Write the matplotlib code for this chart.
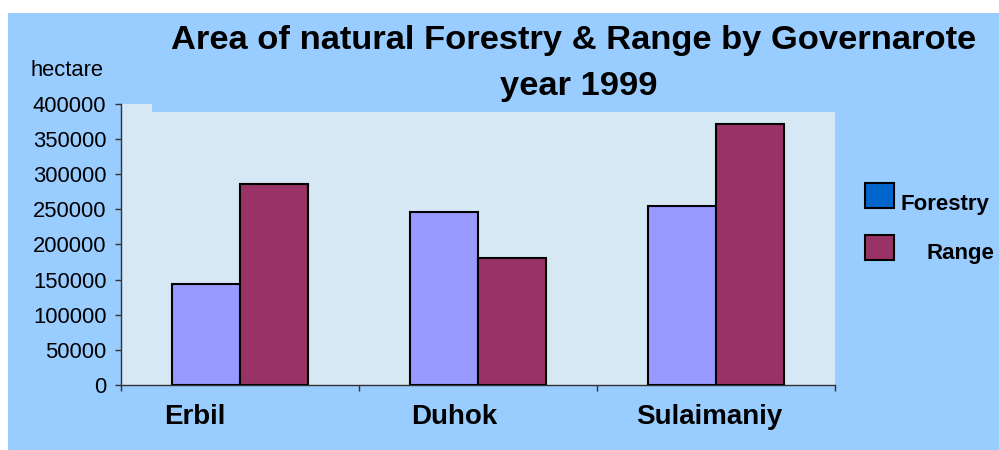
import matplotlib.pyplot as plt
import numpy as np
from matplotlib.patches import Rectangle

categories = ["Erbil", "Duhok", "Sulaimaniy"]
forestry = [144000, 246000, 255000]
rangeland = [286000, 181000, 371000]
label_shift = [-0.19, -0.10, -0.03]
y_ticks = [0, 50000, 100000, 150000, 200000, 250000, 300000, 350000, 400000]

plt.rcParams['font.family'] = ['Liberation Sans', 'DejaVu Sans']

fig = plt.figure(figsize=(9.99, 4.5), dpi=100, facecolor='#99ccff')

# white margin on top and left
fig.patches.append(Rectangle((0, 0), 8 / 999, 1, transform=fig.transFigure,
                             facecolor='white', edgecolor='none'))
fig.patches.append(Rectangle((0, 1 - 13 / 450), 1, 13 / 450, transform=fig.transFigure,
                             facecolor='white', edgecolor='none'))

ax = fig.add_axes([121 / 999, 65 / 450, 714 / 999, 281 / 450])
ax.set_facecolor('#d5e8f4')

x = np.arange(len(categories))
w = 0.285
ax.bar(x - w / 2, forestry, width=w, color='#9999ff', edgecolor='black', linewidth=1.5, zorder=3)
ax.bar(x + w / 2, rangeland, width=w, color='#993366', edgecolor='black', linewidth=1.5, zorder=3)

ax.set_xlim(-0.5, 2.5)
ax.set_ylim(0, 400000)
ax.set_yticks(y_ticks)
ax.set_yticklabels([str(v) for v in y_ticks], fontsize=15.8)
ax.set_xticks([-0.5, 0.5, 1.5, 2.5])
ax.set_xticklabels([])
ax.tick_params(axis='both', direction='out', length=4, color='#333333', width=1)
ax.tick_params(axis='y', pad=6.5)
for s in ['top', 'right']:
    ax.spines[s].set_visible(False)
for s in ['left', 'bottom']:
    ax.spines[s].set_color('#333333')
    ax.spines[s].set_linewidth(1)

for i, c in enumerate(categories):
    ax.text(i + label_shift[i], -0.115, c, transform=ax.get_xaxis_transform(),
            ha='center', va='center', fontsize=20, fontweight='bold')

# title box covering the top of the plot area
title_box = Rectangle((152 / 999, 1 - 112 / 450), 690 / 999, 10 / 450,
                      transform=fig.transFigure, facecolor='#99ccff',
                      edgecolor='none', zorder=5)
fig.add_artist(title_box)

fig.text(574 / 999, 1 - 41 / 450, "Area of natural Forestry & Range by Governarote",
         ha='center', va='center', fontsize=24.8, fontweight='bold', zorder=6)
fig.text(579 / 999, 1 - 87 / 450, "year 1999",
         ha='center', va='center', fontsize=24.8, fontweight='bold', zorder=6)
fig.text(67 / 999, 1 - 71 / 450, "hectare", ha='center', va='center', fontsize=15.8)

# legend
fig.add_artist(Rectangle((865 / 999, 1 - 208 / 450), 29 / 999, 25 / 450,
                         transform=fig.transFigure, facecolor='#0066cc',
                         edgecolor='black', linewidth=1.5, zorder=6))
fig.add_artist(Rectangle((865 / 999, 1 - 260 / 450), 29 / 999, 25 / 450,
                         transform=fig.transFigure, facecolor='#993366',
                         edgecolor='black', linewidth=1.5, zorder=6))
fig.text(901 / 999, 1 - 204 / 450, "Forestry", ha='left', va='center',
         fontsize=16, fontweight='bold')
fig.text(926 / 999, 1 - 254 / 450, "Range", ha='left', va='center',
         fontsize=16, fontweight='bold')

plt.savefig("out.png", dpi=100, facecolor=fig.get_facecolor())
